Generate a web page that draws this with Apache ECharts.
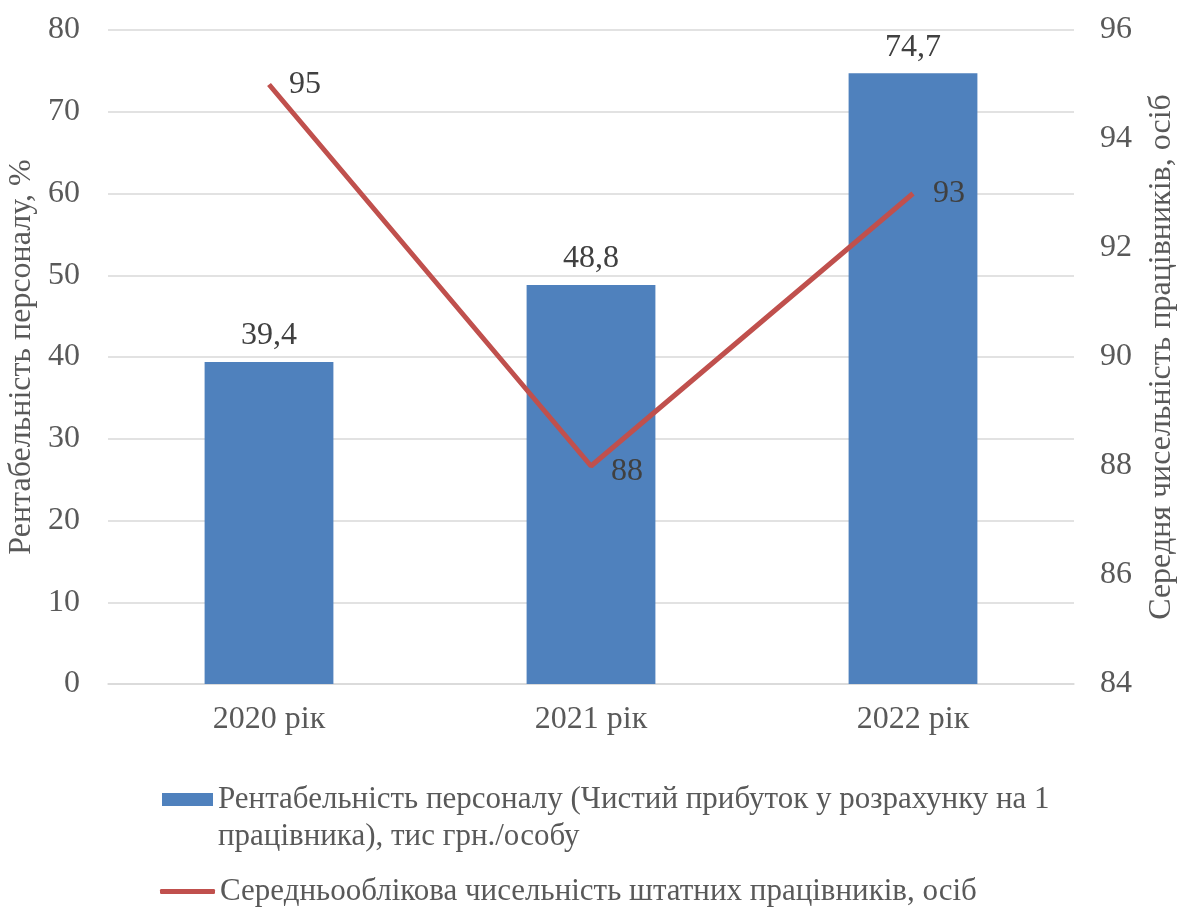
<!DOCTYPE html>
<html>
<head>
<meta charset="utf-8">
<script src="https://cdn.jsdelivr.net/npm/echarts@6/dist/echarts.min.js"></script>
<style>
  html, body { margin: 0; padding: 0; background: #fff; }
  #chart { width: 1178px; height: 908px; }
</style>
</head>
<body>
<div id="chart"></div>
<script>
// дані діаграми
const years = ['2020 рік', '2021 рік', '2022 рік']
const profitability = [39.4, 48.8, 74.7]
const staffCount = [95, 88, 93]

const barName = 'Рентабельність персоналу (Чистий прибуток у розрахунку на 1 працівника), тис грн./особу'
const lineName = 'Середньооблікова чисельність штатних працівників, осіб'

const FONT = '"Liberation Serif", "Times New Roman", serif'
const TXT = '#595959'
const FS = 32

const myChart = echarts.init(document.getElementById('chart'))

const option = {
  animation: false,
  textStyle: { fontFamily: FONT },
  grid: { left: 108, right: 104, top: 30, bottom: 224, outerBoundsMode: 'none', containLabel: false },
  legend: [
    {
      data: [{ name: barName, icon: 'rect' }],
      orient: 'vertical',
      left: 162,
      top: 744,
      padding: 0,
      itemWidth: 51,
      itemHeight: 13,
      // порожній перший рядок, щоб значок стояв навпроти першого рядка тексту
      formatter: () => ' \nРентабельність персоналу (Чистий прибуток у розрахунку на 1\nпрацівника), тис грн./особу',
      textStyle: { fontFamily: FONT, fontSize: 31, color: TXT, lineHeight: 37 }
    },
    {
      data: [{ name: lineName, icon: 'roundRect' }],
      orient: 'vertical',
      left: 160,
      top: 876,
      padding: 0,
      itemWidth: 55,
      itemHeight: 5,
      textStyle: { fontFamily: FONT, fontSize: 31, color: TXT }
    }
  ],
  xAxis: {
    type: 'category',
    data: years,
    axisLine: { show: true, lineStyle: { color: '#d9d9d9', width: 1.5 } },
    axisTick: { show: false },
    axisLabel: { fontFamily: FONT, fontSize: FS, color: TXT, margin: 20 }
  },
  yAxis: [
    {
      type: 'value',
      min: 0,
      max: 80,
      interval: 10,
      name: 'Рентабельність персоналу, %',
      nameLocation: 'middle',
      nameGap: 68,
      nameTextStyle: { fontFamily: FONT, fontSize: FS, color: TXT },
      axisLine: { show: false },
      axisTick: { show: false },
      axisLabel: { fontFamily: FONT, fontSize: FS, color: TXT, margin: 28 },
      splitLine: { lineStyle: { color: '#d9d9d9', width: 1.5 } }
    },
    {
      type: 'value',
      min: 84,
      max: 96,
      interval: 2,
      name: 'Середня чисельність працівників, осіб',
      nameLocation: 'middle',
      nameGap: 72,
      nameRotate: 90,
      nameTextStyle: { fontFamily: FONT, fontSize: FS, color: TXT },
      axisLine: { show: false },
      axisTick: { show: false },
      axisLabel: { fontFamily: FONT, fontSize: FS, color: TXT, margin: 26 },
      splitLine: { show: false }
    }
  ],
  series: [
    {
      name: barName,
      type: 'bar',
      data: profitability,
      barWidth: '40%',
      itemStyle: { color: '#4F81BD' },
      label: {
        show: true,
        position: 'top',
        distance: 10,
        fontFamily: FONT,
        fontSize: FS,
        color: '#404040',
        formatter: p => String(p.value).replace('.', ',')
      }
    },
    {
      name: lineName,
      type: 'line',
      yAxisIndex: 1,
      data: staffCount.map((v, i) => i === 1
        ? { value: v, label: { offset: [0, 6] } }
        : { value: v }),
      symbol: 'circle',
      symbolSize: 0,
      showSymbol: true,
      lineStyle: { color: '#C0504D', width: 5 },
      itemStyle: { color: '#C0504D' },
      label: {
        show: true,
        position: 'right',
        distance: 20,
        fontFamily: FONT,
        fontSize: FS,
        color: '#404040'
      }
    }
  ]
}

myChart.setOption(option)
</script>
</body>
</html>
